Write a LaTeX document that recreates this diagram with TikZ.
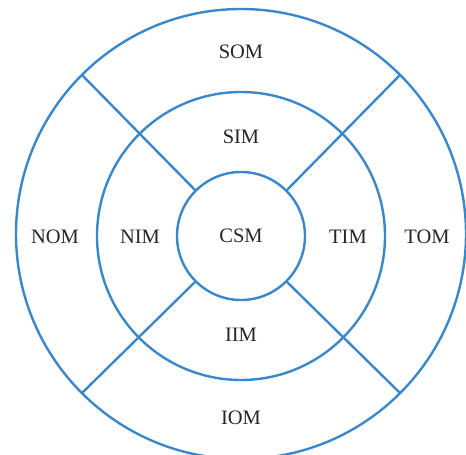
\documentclass[tikz,border=0pt]{standalone}
\usepackage{fontspec}
\setmainfont{Liberation Serif}
\definecolor{ringblue}{HTML}{3A88C9}
\tikzset{
  ring/.style={draw=ringblue, line width=2.4pt, circle, inner sep=0pt, outer sep=0pt},
  zone/.style={font=\fontsize{20.5}{22}\selectfont, text=black!85}
}
\begin{document}
\begin{tikzpicture}[x=1pt,y=-1pt]
                        \useasboundingbox (0,0) rectangle (466,455);
                        \clip (0,0) rectangle (466,455);
                        \coordinate (c) at (241,236);

                        \node[ring, minimum size=450pt] (outer) at (241,234) {};
                        \node[ring, minimum size=288pt] (middle) at (c) {};
                        \node[ring, minimum size=128pt] (inner) at (c) {};

                        \foreach \a in {45,135,225,315}
                            \draw[ringblue, line width=2.4pt] (inner.\a) -- (outer.\a);

                        \node[zone] (csm) at (c) {CSM};
                        \node[zone] (som) at (241,52) {SOM};
                        \node[zone] (sim) at (241,137) {SIM};
                        \node[zone] (nom) at (55,237) {NOM};
                        \node[zone] (nim) at (140,237) {NIM};
                        \node[zone] (tim) at (348,237) {TIM};
                        \node[zone] (tom) at (427,237) {TOM};
                        \node[zone] (iim) at (241,335) {IIM};
                        \node[zone] (iom) at (241,418) {IOM};
                    \end{tikzpicture}
\end{document}
